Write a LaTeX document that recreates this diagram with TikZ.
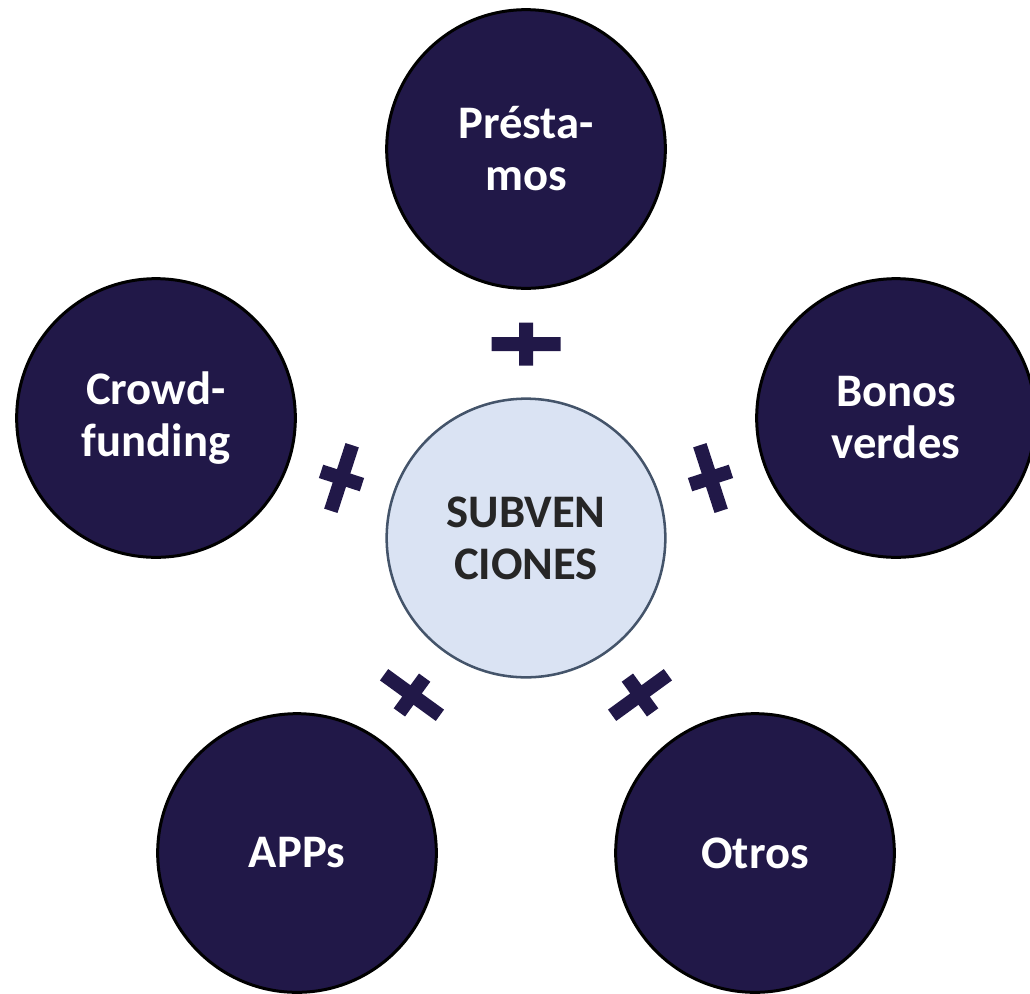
\documentclass[tikz,border=0pt]{standalone}
\usepackage{fontspec}
\setmainfont{Carlito}
\usepackage{tikz}

\definecolor{navyfill}{RGB}{33,24,72}
\definecolor{centerfill}{RGB}{218,227,243}
\definecolor{centerline}{RGB}{68,84,106}
\definecolor{centertext}{RGB}{38,38,38}

\tikzset{
  outercircle/.style={circle, draw=black, line width=2.25pt, fill=navyfill, text=white,
    minimum size=209pt, inner sep=0pt, align=center,
    font=\fontsize{35}{39}\selectfont\bfseries},
  centercircle/.style={circle, draw=centerline, line width=1.9pt, fill=centerfill, text=centertext,
    minimum size=209pt, inner sep=0pt, align=center,
    font=\fontsize{35}{39}\selectfont\bfseries},
  plussign/.style={fill=navyfill}
}

\begin{document}
\begin{tikzpicture}[x=0.75pt,y=0.75pt,yscale=-1,xscale=1]
%set diagram left start at 0, and has height of 993
\useasboundingbox (0,0) rectangle (1030,993);

%Shape: Circle [center]
\node [centercircle] (subvenciones) at (526,538) {SUBVEN\\CIONES};

%Shape: Circle [outer]
\node [outercircle] (prestamos) at (526,149) {Présta-\\mos};
\node [outercircle] (bonos) at (896,418) {Bonos\\verdes};
\node [outercircle] (crowd) at (156,418) {Crowd-\\funding};
\node [outercircle] (apps) at (297,853) {APPs};
\node [outercircle] (otros) at (755,853) {Otros};

%Shape: Plus
\fill [plussign, shift={(526,344)}, rotate=0] (-34.5,-7) rectangle (34.5,7) (-7,-21.5) rectangle (7,21.5);
\fill [plussign, shift={(341.5,478)}, rotate=-72] (-34.5,-7) rectangle (34.5,7) (-7,-21.5) rectangle (7,21.5);
\fill [plussign, shift={(710.5,478)}, rotate=72] (-34.5,-7) rectangle (34.5,7) (-7,-21.5) rectangle (7,21.5);
\fill [plussign, shift={(412,695)}, rotate=-144] (-34.5,-7) rectangle (34.5,7) (-7,-21.5) rectangle (7,21.5);
\fill [plussign, shift={(640,695)}, rotate=144] (-34.5,-7) rectangle (34.5,7) (-7,-21.5) rectangle (7,21.5);

\end{tikzpicture}
\end{document}
